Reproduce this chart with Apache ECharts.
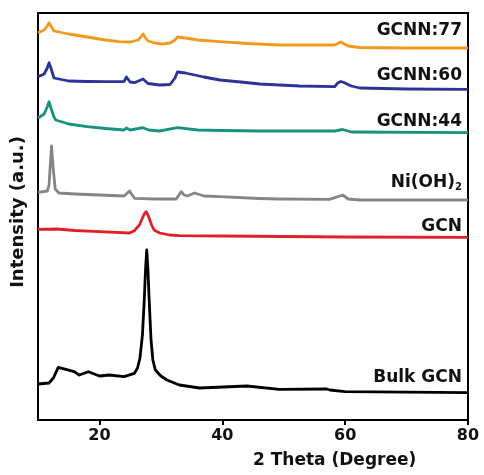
<!DOCTYPE html>
<html><head><meta charset="utf-8">
<script src="https://cdn.jsdelivr.net/npm/echarts@6/dist/echarts.min.js"></script>
<style>html,body{margin:0;padding:0;background:#fff}#c{width:484px;height:475px}</style>
</head><body><div id="c"></div>
<script>
const xTicks = [20, 40, 60, 80];
const seriesNames = ['GCNN:77', 'GCNN:60', 'GCNN:44', 'Ni(OH)2', 'GCN', 'Bulk GCN'];
const colors = ['#F39A1E', '#2B3398', '#17927F', '#858585', '#E41E26', '#000000'];

const gcnn77 = [[10,387.3],[11,390],[11.5,394],[11.8,397.3],[12.1,394],[12.6,389],[12.9,387.5],[15,386],[18,383],[21,380],[23.2,378.3],[25,378],[26.3,380],[26.8,383.5],[27.1,386],[27.4,383],[27.9,379],[29,377],[30.2,376],[31.5,377],[32.3,380],[32.7,383],[33,384],[34,382],[36,380],[39.6,378.3],[44,376.5],[49.3,375],[54,375],[58.3,375],[59.3,378],[60.5,374],[62.4,372.5],[70,372],[80,372]];
const gcnn60 = [[10,343.3],[11,346],[11.5,352],[11.8,357.3],[12.1,352],[12.6,342],[12.9,340],[15,339],[18,338.5],[21,338.3],[24,338.3],[24.4,343],[25,338],[25.7,337.3],[27.1,341],[27.9,336.5],[29.8,335],[31.5,335.5],[32.3,342],[32.7,348],[33,350],[34,347],[35.5,345],[37,343],[39.6,340],[43,338],[46.1,336],[49.3,335],[52.6,334],[58.3,333.3],[58.8,337],[59.3,338.5],[59.8,337.5],[61,334],[62.4,332],[70,331],[80,330.7]];
const gcnn44 = [[10,302],[11,306],[11.5,313],[11.8,318.3],[12.1,312],[12.6,303],[12.9,300],[15,296],[18,293.3],[21,291.5],[24,290],[24.4,292],[25,290],[27.1,292.3],[28,290],[29.8,289],[32.7,292.3],[33,291.7],[36,290],[40,289.5],[46.1,289],[58.3,289],[59.6,290.5],[61,288],[80,287.3]];
const niOH2 = [[10,227.7],[11.5,229],[11.8,235],[12.0,255],[12.2,274],[12.5,250],[12.8,231],[13.4,227],[16,226],[20,225],[24,224],[24.9,229],[25.7,221.7],[29,221],[32.5,221],[33.3,228.3],[33.8,225],[34.3,224],[35.5,227],[37,224],[39.6,223.3],[46,221.5],[49.3,221],[57.5,220.7],[59.6,225],[60.5,221],[62.4,220],[80,220]];
const gcn = [[10,190.7],[13.1,191],[16,189.5],[20,188.3],[24.9,187],[25.7,189.3],[26.5,195],[27.0,202],[27.3,206],[27.6,208.3],[27.9,205],[28.2,200],[28.5,195],[28.9,190],[29.8,187],[31.4,185],[33,184.3],[40,184],[50,183.5],[60,183],[80,182.7]];
const bulkGcn = [[10,36],[11.8,37],[12.5,42],[13.3,52.7],[15.9,48.3],[16.7,45],[18.2,48.3],[20,44],[21.6,45],[24,43.3],[25.7,46.7],[26.2,52],[26.6,62],[27,85],[27.3,120],[27.5,150],[27.7,170],[27.9,150],[28.1,120],[28.4,80],[28.7,60],[29.1,50],[30,44],[31,40],[33,35],[36.3,32],[44,34],[49.3,30.7],[57,31],[57.5,30],[60,28.3],[80,27.3]];
const allData = [gcnn77, gcnn60, gcnn44, niOH2, gcn, bulkGcn];

const chart = echarts.init(document.getElementById('c'));
const labelFont = 'bold 17px "DejaVu Sans", sans-serif';
const labelY = [33, 78, 124, 185, 229, 380];
const graphics = seriesNames.map((n, i) => {
  if (n === 'Ni(OH)2') {
    return {type:'text', right: 22, top: labelY[i]-11, style:{text:'{a|Ni(OH)}{b|2}', rich:{a:{font:labelFont, fill:'#111'}, b:{font:'bold 10px "DejaVu Sans", sans-serif', fill:'#111', padding:[10,0,0,0]}}}};
  }
  return {type:'text', right: 22, top: labelY[i]-11, style:{text:n, font:labelFont, fill:'#111'}};
});
graphics.push({type:'text', left: 253, top: 452, style:{text:'2 Theta (Degree)', font:'bold 17px "DejaVu Sans", sans-serif', fill:'#111', align:'center'}});
graphics.push({type:'text', rotation: Math.PI/2, x: 18, y: 212, style:{text:'Intensity (a.u.)', font:'bold 18px "DejaVu Sans", sans-serif', fill:'#111', align:'center', verticalAlign:'middle'}});

chart.setOption({
  animation: false,
  grid: {left: 38, right: 16, top: 13, bottom: 55, show: true, borderColor: '#000', borderWidth: 2},
  xAxis: {type:'value', min:10, max:80, interval:10,
    axisLine:{show:true, onZero:false, lineStyle:{color:'#000', width:2}},
    axisTick:{show:true, customValues: xTicks, length:5, lineStyle:{color:'#000', width:2}},
    axisLabel:{customValues: xTicks, color:'#111', fontSize:16, fontWeight:'bold', fontFamily:'DejaVu Sans', margin:8},
    splitLine:{show:false}},
  yAxis: {type:'value', min:0, max:407, axisLine:{show:true, lineStyle:{color:'#000', width:2}}, axisTick:{show:false}, axisLabel:{show:false}, splitLine:{show:false}},
  series: allData.map((d, i) => ({type:'line', name: seriesNames[i], data: d, showSymbol:false, smooth:false, lineStyle:{color: colors[i], width: 2.8, join:'round'}})),
  graphic: graphics
});
</script></body></html>
